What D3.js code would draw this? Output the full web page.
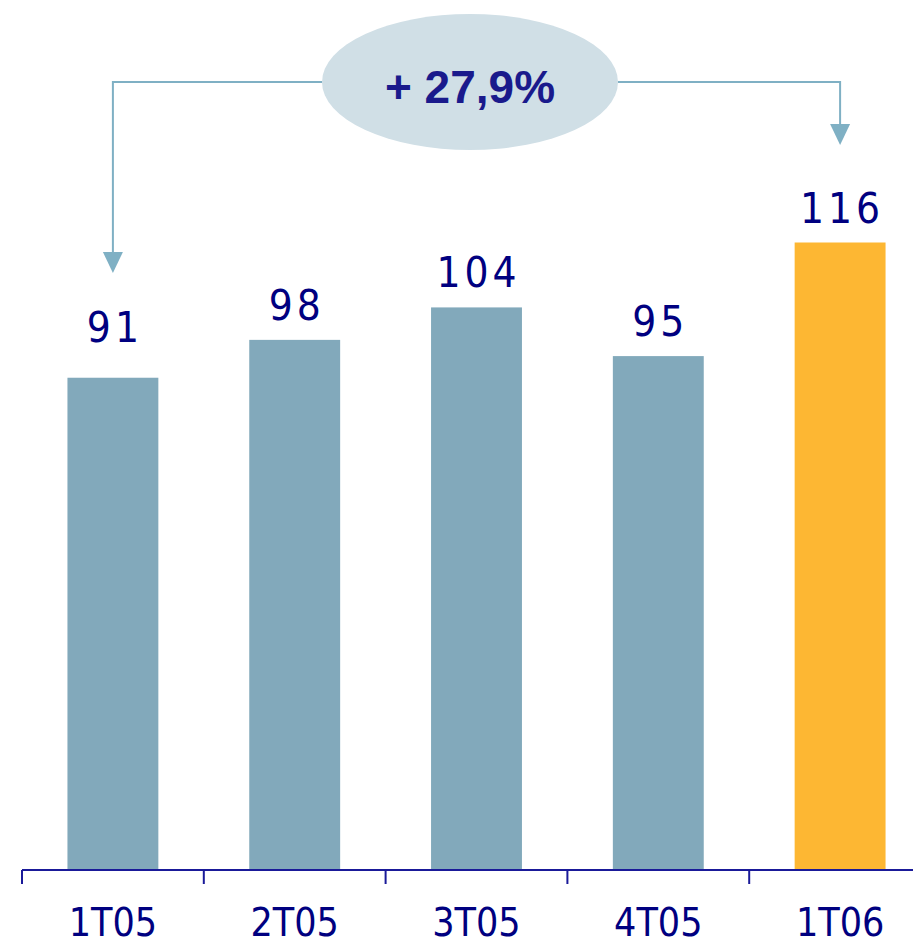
<!DOCTYPE html>
<html><head><meta charset="utf-8">
<script src="https://cdn.jsdelivr.net/npm/d3@7/dist/d3.min.js"></script>
<style>body{margin:0;background:#fff}svg{display:block}</style>
</head><body>
<svg id="c" width="913" height="946"></svg>
<script>
const categories = ["1T05","2T05","3T05","4T05","1T06"];
const values = [91, 98, 104, 95, 116];
const barColors = ["#82a9bb","#82a9bb","#82a9bb","#82a9bb","#fdb733"];
const growthLabel = "+ 27,9%";

const svg = d3.select("#c");
const W = 913, H = 946;
const x = d3.scaleBand().domain(categories).range([22, 22 + 5*181.8]).paddingInner(0.5).paddingOuter(0.25);
const y = d3.scaleLinear().domain([0, 116]).range([870, 242.5]);

// bars
svg.selectAll("rect.bar").data(values).join("rect")
  .attr("x", (d,i)=>x(categories[i]))
  .attr("y", d=>y(d))
  .attr("width", x.bandwidth())
  .attr("height", d=>y(0)-y(d))
  .attr("fill", (d,i)=>barColors[i]);

// value labels
svg.selectAll("text.val").data(values).join("text")
  .attr("x", (d,i)=>x(categories[i]) + x.bandwidth()/2 + 2)
  .attr("y", (d,i)=> y(d) - (i===0 ? 36 : 20))
  .attr("text-anchor","middle")
  .attr("font-family","'DejaVu Sans Condensed','DejaVu Sans',sans-serif")
  .attr("font-size", 42)
  .attr("letter-spacing", 4)
  .attr("fill","#000080")
  .text(d=>d);

// axis
const axisG = svg.append("g").attr("transform","translate(0,870)");
axisG.append("line").attr("x1",22).attr("x2",W).attr("y1",0).attr("y2",0)
  .attr("stroke","#1a1a99").attr("stroke-width",2);
const step = x.step();
const tickXs = categories.map(c => x(c) - (step - x.bandwidth())/2);
axisG.selectAll("line.tick").data(tickXs).join("line")
  .attr("x1",d=>d).attr("x2",d=>d).attr("y1",0).attr("y2",14)
  .attr("stroke","#1a1a99").attr("stroke-width",2);
axisG.selectAll("text.cat").data(categories).join("text")
  .attr("x", c=>x(c)+x.bandwidth()/2)
  .attr("y", 66)
  .attr("text-anchor","middle")
  .attr("font-family","'DejaVu Sans Condensed','DejaVu Sans',sans-serif")
  .attr("font-size", 39)
  .attr("fill","#000080")
  .text(c=>c);

// growth annotation
const c0 = x(categories[0]) + x.bandwidth()/2;
const c4 = x(categories[4]) + x.bandwidth()/2;
const ex = 470, ey = 82, rx = 148, ry = 68;
const lineColor = "#7fb0c4";
svg.append("path")
  .attr("d", `M${c0},253 V${ey} H${ex-rx}`)
  .attr("fill","none").attr("stroke",lineColor).attr("stroke-width",2);
svg.append("path")
  .attr("d", `M${ex+rx},${ey} H${c4} V125`)
  .attr("fill","none").attr("stroke",lineColor).attr("stroke-width",2);
svg.append("path").attr("d", `M${c0-10},252 L${c0+10},252 L${c0},273 Z`).attr("fill",lineColor);
svg.append("path").attr("d", `M${c4-10},124 L${c4+10},124 L${c4},145 Z`).attr("fill",lineColor);
svg.append("ellipse").attr("cx",ex).attr("cy",ey).attr("rx",rx).attr("ry",ry).attr("fill","#d0dfe6");
svg.append("text").attr("x",ex).attr("y",ey+21).attr("text-anchor","middle")
  .attr("font-family","'Liberation Sans',Arial,sans-serif").attr("font-weight","bold")
  .attr("font-size",46).attr("fill","#1a1a8c").text(growthLabel);
</script>
</body></html>
